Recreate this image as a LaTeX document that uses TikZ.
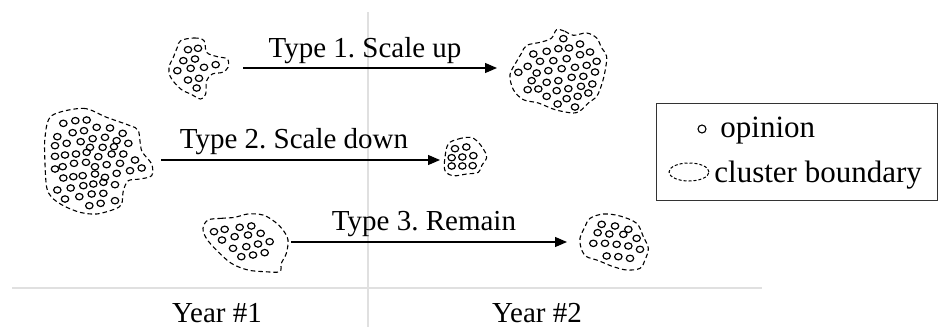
\documentclass[tikz,border=0pt]{standalone}
\usepackage{fontspec}
\setmainfont{Liberation Serif}
\usetikzlibrary{arrows.meta,shapes.geometric}
\frenchspacing
\begin{document}
\begin{tikzpicture}[x=0.5pt,y=-0.5pt,
  dot/.style={line width=0.6pt},
  bound/.style={line width=0.55pt, dash pattern=on 2.3pt off 1.5pt},
  flow/.style={line width=0.6pt, -{Triangle[length=6pt,width=5pt]}},
  lab/.style={font=\fontsize{14.5}{17}\selectfont, anchor=base, inner sep=0pt},
  leglab/.style={font=\fontsize{15.5}{18}\selectfont, anchor=base west, inner sep=0pt},
  gridline/.style={draw=black!12, line width=0.6pt},
  zoomed/.style={x=0.166667pt,y=-0.166667pt}]
\useasboundingbox (0,0) rectangle (939,327);
% grid lines
\coordinate (vtop) at (368,12);
\coordinate (vbot) at (368,327);
\coordinate (hl) at (12,288);
\coordinate (hr) at (762,288);
\draw[gridline] (vtop) -- (vbot);
\draw[gridline] (hl) -- (hr);

% cluster 1 (Year 1, type 1)
\begin{scope}[shift={(164,34)},zoomed]
\draw[bound] plot[smooth cycle, tension=0.6] coordinates {(50,20) (90,12) (120,20) (128,55) (160,68) (190,75) (192,100) (175,115) (145,120) (128,140) (125,180) (110,195) (80,180) (50,165) (20,130) (15,100) (28,70) (40,40)};
\foreach \a/\b in {72/47,102/43,58/80,93/75,40/110,80/103,120/100,155/92,72/138,105/133,98/162}
  \draw[dot] (\a,\b) ellipse [x radius=1.85pt, y radius=1.6pt];
\end{scope}

% cluster 2 (Year 1, type 2)
\begin{scope}[shift={(40,104)},zoomed]
\draw[bound] plot[smooth cycle, tension=0.5] coordinates {(35,35) (130,13) (200,40) (270,65) (295,80) (305,140) (335,180) (335,215) (300,225) (265,230) (250,260) (245,300) (225,315) (170,330) (120,325) (70,305) (35,280) (20,250) (15,180) (15,100)};
\foreach \a/\b in {70/58,106/50,140/48,170/70,210/72,248/88,52/98,98/86,132/80,158/104,195/100,230/110,45/125,80/118,122/113,150/130,188/130,222/128,265/118,45/157,75/153,108/150,140/145,175/158,215/150,250/150,285/168,45/195,68/188,102/178,138/175,165/188,200/182,240/178,270/200,305/192,70/222,100/218,128/215,165/210,195/220,230/208,52/258,92/252,130/245,160/240,190/235,225/242,75/285,118/278,155/270,190/268,148/305,182/298,225/290}
  \draw[dot] (\a,\b) ellipse [x radius=1.85pt, y radius=1.6pt];
\end{scope}

% cluster 3 (Year 2, type 1)
\begin{scope}[shift={(505,28)},zoomed]
\draw[bound] plot[smooth cycle, tension=0.55] coordinates {(155,5) (180,10) (205,22) (245,15) (275,30) (290,60) (305,85) (300,130) (290,170) (275,205) (250,225) (230,245) (205,255) (150,245) (100,225) (55,215) (25,185) (15,140) (35,100) (50,75) (65,52) (110,42) (140,30)};
\foreach \a/\b in {175/32,225/48,160/62,192/60,125/70,85/78,255/72,225/80,185/92,145/98,105/100,68/115,275/100,245/112,210/118,170/122,130/128,95/135,40/133,270/132,235/145,200/148,160/158,125/163,80/158,262/168,228/175,190/182,155/188,100/183,68/185,250/195,218/205,185/212,158/228,125/205,210/237}
  \draw[dot] (\a,\b) ellipse [x radius=1.85pt, y radius=1.6pt];
\end{scope}

% cluster 4 (Year 2, type 2)
\begin{scope}[shift={(440,134)},zoomed]
\draw[bound] plot[smooth cycle, tension=0.6] coordinates {(25,30) (55,15) (90,10) (110,20) (130,45) (140,70) (125,95) (115,115) (80,120) (40,125) (15,110) (15,70)};
\foreach \a/\b in {45/44,79/39,35/71,67/69,100/65,35/96,67/96,98/95}
  \draw[dot] (\a,\b) ellipse [x radius=1.85pt, y radius=1.6pt];
\end{scope}

% cluster 5 (Year 1, type 3)
\begin{scope}[shift={(198,210)},zoomed]
\draw[bound] plot[smooth cycle, tension=0.55] coordinates {(30,30) (70,25) (110,22) (150,12) (195,15) (230,35) (255,60) (270,90) (265,130) (250,160) (245,185) (200,185) (150,180) (100,160) (55,120) (25,85) (15,55)};
\foreach \a/\b in {48/65,80/58,125/52,160/48,72/90,110/80,150/75,188/70,105/115,145/110,180/102,215/95,130/140,165/135,200/128}
  \draw[dot] (\a,\b) ellipse [x radius=1.85pt, y radius=1.6pt];
\end{scope}

% cluster 6 (Year 2, type 3)
\begin{scope}[shift={(550,190)},zoomed]
\draw[bound] plot[smooth cycle, tension=0.55] coordinates {(120,85) (160,72) (210,78) (260,100) (280,140) (295,175) (285,210) (270,235) (230,240) (190,230) (160,218) (140,210) (110,200) (95,180) (90,145) (105,110)};
\foreach \a/\b in {155/103,195/108,235/118,143/128,178/132,220/133,260/145,130/160,165/160,200/163,235/168,270/178,170/198,205/200,240/205}
  \draw[dot] (\a,\b) ellipse [x radius=1.85pt, y radius=1.6pt];
\end{scope}

% arrows
\coordinate (a1s) at (243,68);
\coordinate (a1e) at (497,68);
\coordinate (a2s) at (161,160);
\coordinate (a2e) at (440,160);
\coordinate (a3s) at (291,242);
\coordinate (a3e) at (567,242);
\draw[flow] (a1s) -- (a1e);
\draw[flow] (a2s) -- (a2e);
\draw[flow] (a3s) -- (a3e);

\node[lab] (t1) at (365,57) {Type 1. Scale up};
\node[lab] (t2) at (294,148) {Type 2. Scale down};
\node[lab] (t3) at (424,230) {Type 3. Remain};
\node[lab] (y1) at (217,322) {Year \#1};
\node[lab] (y2) at (537,322) {Year \#2};

% legend
\node[draw=black!80, line width=0.6pt, minimum width=140.5pt, minimum height=48.5pt, inner sep=0pt, anchor=north west] (legend) at (656,103) {};
\node[draw, circle, line width=0.55pt, minimum size=4pt, inner sep=0pt] (ldot) at (702,129) {};
\node[draw, ellipse, line width=0.5pt, dash pattern=on 1.5pt off 1pt, minimum width=20pt, minimum height=9pt, inner sep=0pt] (lbound) at (689,172) {};
\node[leglab] (l1) at (720,137) {opinion};
\node[leglab] (l2) at (714,182) {cluster boundary};
\end{tikzpicture}
\end{document}
